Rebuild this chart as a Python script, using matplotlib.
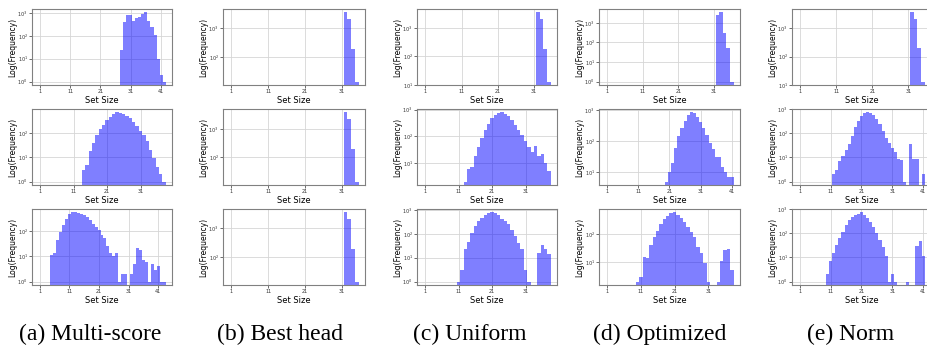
import matplotlib
matplotlib.use("Agg")
import matplotlib.pyplot as plt
import numpy as np

# counts per integer set size; each panel = first set size + counts from there
multi_r1_start = 28
multi_r1 = [25, 400, 790, 840, 470, 600, 700, 930, 1070, 470, 255, 110, 10, 2, 1]
multi_r2_start = 14
multi_r2 = [3, 5, 18, 38, 85, 150, 220, 340, 470, 590, 690, 650, 590, 500, 390,
            280, 190, 125, 78, 45, 20, 9, 4, 2, 1]
multi_r3_start = 5
multi_r3 = [11, 13, 46, 95, 170, 300, 470, 550, 550, 540, 470, 430, 350, 280, 200,
            150, 110, 73, 53, 25, 13, 10, 14, 1, 2, 2, 0, 2, 5, 21, 18, 7, 6, 1,
            5, 3, 4, 1, 1]

best_r1_start = 32
best_r1 = [3600, 2100, 195, 14]
best_r2_start = 32
best_r2 = [3800, 2300, 190, 14]
best_r3_start = 32
best_r3 = [3600, 2200, 190, 14]

unif_r1_start = 32
unif_r1 = [3600, 2100, 190, 13]
unif_r2_start = 13
unif_r2 = [2, 6, 7, 18, 40, 86, 178, 290, 490, 650, 750, 790, 700, 580, 420, 260,
           178, 115, 65, 40, 25, 45, 18, 22, 10, 5]
unif_r3_start = 11
unif_r3 = [1, 3, 24, 45, 110, 210, 340, 470, 600, 720, 780, 720, 590, 430, 340,
           250, 150, 80, 42, 22, 3, 1, 0, 0, 15, 33, 22, 14]

opt_r1_start = 32
opt_r1 = [2400, 3400, 320, 50, 1]
opt_r2_start = 20
opt_r2 = [5, 10, 20, 60, 150, 270, 470, 720, 860, 820, 610, 410, 270, 165, 88,
          57, 32, 32, 15, 10, 7, 7]
opt_r3_start = 10
opt_r3 = [2, 3, 15, 14, 39, 76, 130, 225, 340, 445, 540, 580, 480, 365, 255, 175,
          115, 76, 35, 20, 9, 2, 0, 0, 2, 11, 26, 28, 5]

norm_r1_start = 32
norm_r1 = [3700, 2200, 195, 13]
norm_r2_start = 12
norm_r2 = [2, 3, 7, 11, 21, 37, 80, 180, 330, 520, 670, 740, 670, 570, 400, 235,
           120, 67, 40, 25, 17, 9, 8, 1, 0, 38, 9, 9, 0, 2]
norm_r3_start = 10
norm_r3 = [2, 7, 15, 32, 66, 115, 220, 350, 480, 600, 660, 730, 570, 410, 280, 190,
           100, 55, 27, 12, 1, 2, 1, 0, 0, 0, 1, 0, 0, 30, 50, 12]

captions = ["(a) Multi-score", "(b) Best head", "(c) Uniform", "(d) Optimized", "(e) Norm"]

columns = [
    [(multi_r1_start, multi_r1), (multi_r2_start, multi_r2), (multi_r3_start, multi_r3)],
    [(best_r1_start, best_r1), (best_r2_start, best_r2), (best_r3_start, best_r3)],
    [(unif_r1_start, unif_r1), (unif_r2_start, unif_r2), (unif_r3_start, unif_r3)],
    [(opt_r1_start, opt_r1), (opt_r2_start, opt_r2), (opt_r3_start, opt_r3)],
    [(norm_r1_start, norm_r1), (norm_r2_start, norm_r2), (norm_r3_start, norm_r3)],
]

W, H = 928, 349
fig = plt.figure(figsize=(W / 100, H / 100), dpi=100)

# panel placement in pixels
col_left = [32, 223, 417, 599, 792]
col_right = [172, 365, 557, 740, 931]
row_top = [9, 109, 209]
row_h = 76
caption_x = [90, 280, 470, 660, 851]


def draw_panel(ax, start, counts, w_px):
    counts = np.array(counts, dtype=float)
    x = np.arange(start, start + len(counts))
    ax.set_yscale("log")
    ax.bar(x, counts, width=1.0, color="blue", alpha=0.5, linewidth=0)
    # x range: from bin 1 up to last bin, 5% margin
    lo, hi = 0.5, x[-1] + 0.5
    pad = 0.05 * (hi - lo)
    ax.set_xlim(lo - pad, hi + pad)
    pos = counts[counts > 0]
    ylo, yhi = np.log10(pos.min()), np.log10(pos.max())
    ypad = 0.05 * (yhi - ylo)
    ax.set_ylim(10 ** (ylo - ypad), 10 ** (yhi + ypad))
    ax.set_xticks(np.arange(1, hi + pad, 10))
    ax.minorticks_off()
    ax.grid(True, color="#d6d6d6", linewidth=0.6)
    ax.set_axisbelow(True)
    for s in ax.spines.values():
        s.set_color("#808080")
        s.set_linewidth(0.8)
    ax.tick_params(labelsize=3.6, length=2, width=0.5, pad=1, colors="#333333")
    ax.set_xlabel("Set Size", fontsize=6, labelpad=1.5)
    ax.set_ylabel("Log(Frequency)", fontsize=5.5)
    ax.yaxis.set_label_coords(-15 / w_px, 0.5)


for c, panels in enumerate(columns):
    for r, (start, counts) in enumerate(panels):
        l = col_left[c]
        w = col_right[c] - l
        b = H - row_top[r] - row_h
        ax = fig.add_axes([l / W, b / H, w / W, row_h / H])
        draw_panel(ax, start, counts, w)
    fig.text(caption_x[c] / W, 1 - 334 / H, captions[c], ha="center", va="center",
             fontsize=17, family=["Liberation Serif", "DejaVu Serif"])

fig.savefig("out.png", dpi=100)
